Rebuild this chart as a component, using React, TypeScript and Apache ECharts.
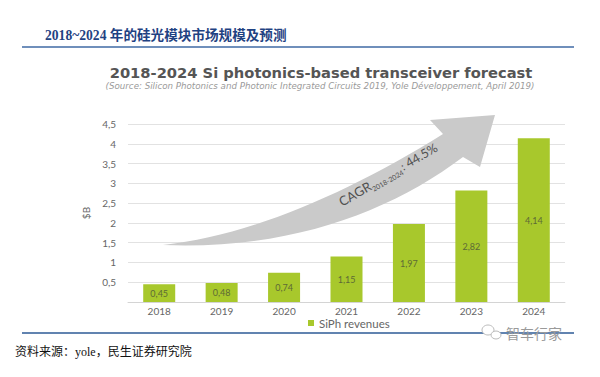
import React, { useEffect, useRef } from "react";
import * as echarts from "echarts";

const categories = ["2018", "2019", "2020", "2021", "2022", "2023", "2024"];
const revenues = [0.45, 0.48, 0.74, 1.15, 1.97, 2.82, 4.14];
const seriesName = "SiPh revenues";
const pageTitle = "2018~2024 年的硅光模块市场规模及预测";
const chartTitle = "2018-2024 Si photonics-based transceiver forecast";
const chartSubtitle =
  "(Source: Silicon Photonics and Photonic Integrated Circuits 2019, Yole Développement, April 2019)";
const sourceText = "资料来源：yole，民生证券研究院";
const watermark = "智车行家";
const yAxisName = "$B";
const yMax = 4.5;
const yInterval = 0.5;

const ARROW_D =
  "M163,245 C250,236 350,192 443,134 L430,120 L495,115 L480,167 L463,157 C390,212 290,250 163,245 Z";

let registered = false;
function ensureShape() {
  if (registered) return;
  const Cls = (echarts.graphic as any).extendPath(ARROW_D, {});
  echarts.graphic.registerShape("cagrArrow", Cls);
  registered = true;
}

const comma = (v: number) => String(v).replace(".", ",");

export default function App() {
  const ref = useRef<HTMLDivElement>(null);
  useEffect(() => {
    if (!ref.current) return;
    ensureShape();
    const chart = echarts.init(ref.current, undefined, { renderer: "svg" });
    const angle = (30 * Math.PI) / 180;
    const ox = 343;
    const oy = 208;
    const along = (d: number, up: number) => ({
      x: ox + d * Math.cos(angle) - up * Math.sin(angle),
      y: oy - d * Math.sin(angle) - up * Math.cos(angle),
    });
    chart.setOption({
      animation: false,
      backgroundColor: "#ffffff",
      grid: { left: 128, right: 35, top: 124, bottom: 75 },
      legend: {
        data: [seriesName],
        left: 303,
        top: 312,
        icon: "rect",
        itemWidth: 6,
        itemHeight: 6,
        itemGap: 4,
        textStyle: { color: "#666", fontSize: 11.5, fontFamily: "Lato" },
      },
      xAxis: {
        type: "category",
        data: categories,
        axisTick: { show: false },
        axisLine: { lineStyle: { color: "#d4d4d4" } },
        axisLabel: { color: "#666", fontSize: 10, margin: 4, fontFamily: "Lato" },
      },
      yAxis: {
        type: "value",
        min: 0,
        max: yMax,
        interval: yInterval,
        name: yAxisName,
        nameLocation: "middle",
        nameGap: 33,
        nameRotate: 90,
        nameTextStyle: { color: "#666", fontSize: 10, fontFamily: "Lato" },
        axisLine: { show: false },
        axisTick: { show: false },
        axisLabel: {
          color: "#666",
          fontSize: 10,
          margin: 12,
          fontFamily: "Lato",
          formatter: (v: number) => (v === 0 ? "" : comma(v)),
        },
        splitLine: { lineStyle: { color: "#e2e2e2" } },
      },
      series: [
        {
          name: seriesName,
          type: "bar",
          data: revenues,
          barWidth: 32,
          z: 3,
          itemStyle: { color: "#a8c82c" },
          label: {
            show: true,
            position: "inside",
            color: "#5d6a36",
            fontSize: 9,
            fontFamily: "Lato",
            formatter: (p: any) => comma(p.value),
          },
        },
      ],
      graphic: [
        {
          type: "text",
          left: 45,
          top: 29,
          style: {
            text: pageTitle,
            fill: "#1f4282",
            font: 'bold 13.6px "Liberation Serif", "Noto Sans CJK SC"',
          },
        },
        {
          type: "line",
          shape: { x1: 22, y1: 47, x2: 574, y2: 47 },
          style: { stroke: "#3f6aa4", lineWidth: 1.5 },
        },
        {
          type: "text",
          x: 321,
          y: 72,
          style: {
            text: chartTitle,
            fill: "#555",
            font: 'bold 14.7px "DejaVu Sans"',
            align: "center",
            verticalAlign: "middle",
          },
        },
        {
          type: "text",
          x: 320,
          y: 86,
          style: {
            text: chartSubtitle,
            fill: "#9a9a9a",
            font: 'italic 8.7px "DejaVu Sans"',
            align: "center",
            verticalAlign: "middle",
          },
        },
        {
          type: "cagrArrow",
          x: 0,
          y: 0,
          z: 1,
          style: { fill: "#cacaca" },
        },
        {
          type: "text",
          ...along(0, 0),
          rotation: angle,
          z: 5,
          style: { text: "CAGR", fill: "#505050", font: '13px "Lato"', verticalAlign: "bottom" },
        },
        {
          type: "text",
          ...along(35, -2),
          rotation: angle,
          z: 5,
          style: { text: "2018-2024", fill: "#505050", font: '7px "Lato"', verticalAlign: "bottom" },
        },
        {
          type: "text",
          ...along(71, 1),
          rotation: angle,
          z: 5,
          style: { text: ":", fill: "#505050", font: '11px "Lato"', verticalAlign: "bottom" },
        },
        {
          type: "text",
          ...along(77, 0),
          rotation: angle,
          z: 5,
          style: { text: "44.5%", fill: "#505050", font: '12.5px "Lato"', verticalAlign: "bottom" },
        },
        {
          type: "line",
          shape: { x1: 22, y1: 333, x2: 574, y2: 333 },
          style: { stroke: "#2d5a96", lineWidth: 1.5 },
        },
        {
          type: "ellipse",
          shape: { cx: 488, cy: 330, rx: 6, ry: 5 },
          style: { fill: "#fff", stroke: "#bbb", lineWidth: 1 },
        },
        {
          type: "ellipse",
          shape: { cx: 496, cy: 335, rx: 5, ry: 4 },
          style: { fill: "#fff", stroke: "#bbb", lineWidth: 1 },
        },
        {
          type: "text",
          x: 506,
          y: 333,
          style: {
            text: watermark,
            fill: "#9a9a9a",
            font: '14px "Noto Sans CJK SC"',
            verticalAlign: "middle",
          },
        },
        {
          type: "text",
          x: 15,
          y: 352,
          style: {
            text: sourceText,
            fill: "#111",
            font: '12px "Liberation Serif", "Noto Sans CJK SC"',
            verticalAlign: "middle",
          },
        },
      ],
    });
    return () => chart.dispose();
  }, []);
  return (
    <div
      ref={ref}
      style={{ position: "absolute", left: 0, top: 0, width: 600, height: 377 }}
    />
  );
}
